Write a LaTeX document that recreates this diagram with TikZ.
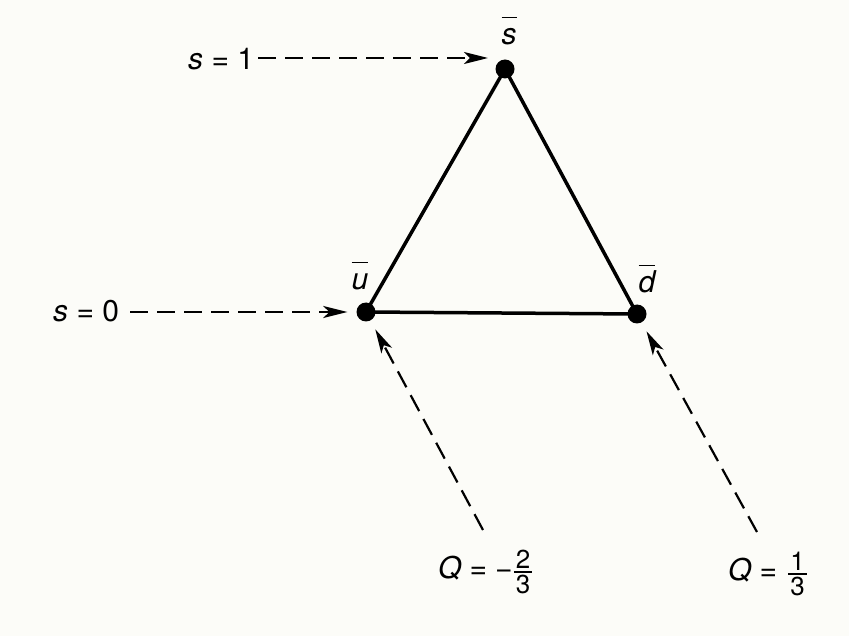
\documentclass[tikz,border=0pt]{standalone}
\usepackage{amsmath}
\usepackage{fontspec}
\setmainfont{TeX Gyre Heros}
\usetikzlibrary{arrows.meta}
\definecolor{bgc}{RGB}{252,252,248}
\newcommand{\qbar}[1]{$\overline{\rule{0pt}{24pt}\mbox{\itshape #1}}$}
\newcommand{\qfrac}[2]{$\genfrac{}{}{2pt}{1}{\mbox{\fontsize{26}{26}\selectfont\hspace{2pt}#1\hspace{2pt}}}{\mbox{\fontsize{26}{26}\selectfont\hspace{2pt}#2\hspace{2pt}}}$}
\begin{document}
\begin{tikzpicture}[x=1pt,y=-1pt,
  dot/.style={circle,fill=black,inner sep=0pt,minimum size=19pt},
  lbl/.style={font=\fontsize{30}{34}\selectfont,inner sep=0pt},
  edge/.style={line width=3.5pt},
  pointer/.style={line width=2.2pt,dash pattern=on 18pt off 9pt,
    -{Stealth[length=24pt,width=12pt,inset=6pt]}}]
\fill[bgc] (0,0) rectangle (849,636);
\useasboundingbox (0,0) rectangle (849,636);
% vertices
\node[dot] (sbar) at (505,69) {};
\node[dot] (ubar) at (366,312) {};
\node[dot] (dbar) at (637,314) {};
% vertex labels
\node[lbl,anchor=base] (sl) at (509,45) {\qbar{s}};
\node[lbl,anchor=base] (ul) at (360,290) {\qbar{u}};
\node[lbl,anchor=base] (dl) at (647,293) {\qbar{d}};
% triangle
\draw[edge,line join=round] (sbar.center) -- (ubar.center) -- (dbar.center) -- cycle;
% left labels
\node[lbl,anchor=base west] (s1) at (188,70) {\textit{s} = 1};
\node[lbl,anchor=base west] (s0) at (53,322) {\textit{s} = 0};
\coordinate (t1s) at (258,58);
\coordinate (t1e) at (488,58);
\draw[pointer] (t1s) -- (t1e);
\coordinate (t0s) at (130,312);
\draw[pointer,shorten >=9pt] (t0s) -- (ubar);
% bottom labels
\node[lbl,anchor=base west] (qa) at (438,578) {\textit{Q}\hspace{8pt}=\hspace{8pt}−\hspace{0pt}\qfrac{2}{3}};
\node[lbl,anchor=base west] (qb) at (728,580) {\textit{Q}\hspace{8pt}=\hspace{10pt}\qfrac{1}{3}};
\coordinate (qas) at (483,530);
\coordinate (qbs) at (757,532);
\draw[pointer,shorten >=10pt] (qas) -- (ubar);
\draw[pointer,shorten >=10pt] (qbs) -- (dbar);
\end{tikzpicture}
\end{document}
